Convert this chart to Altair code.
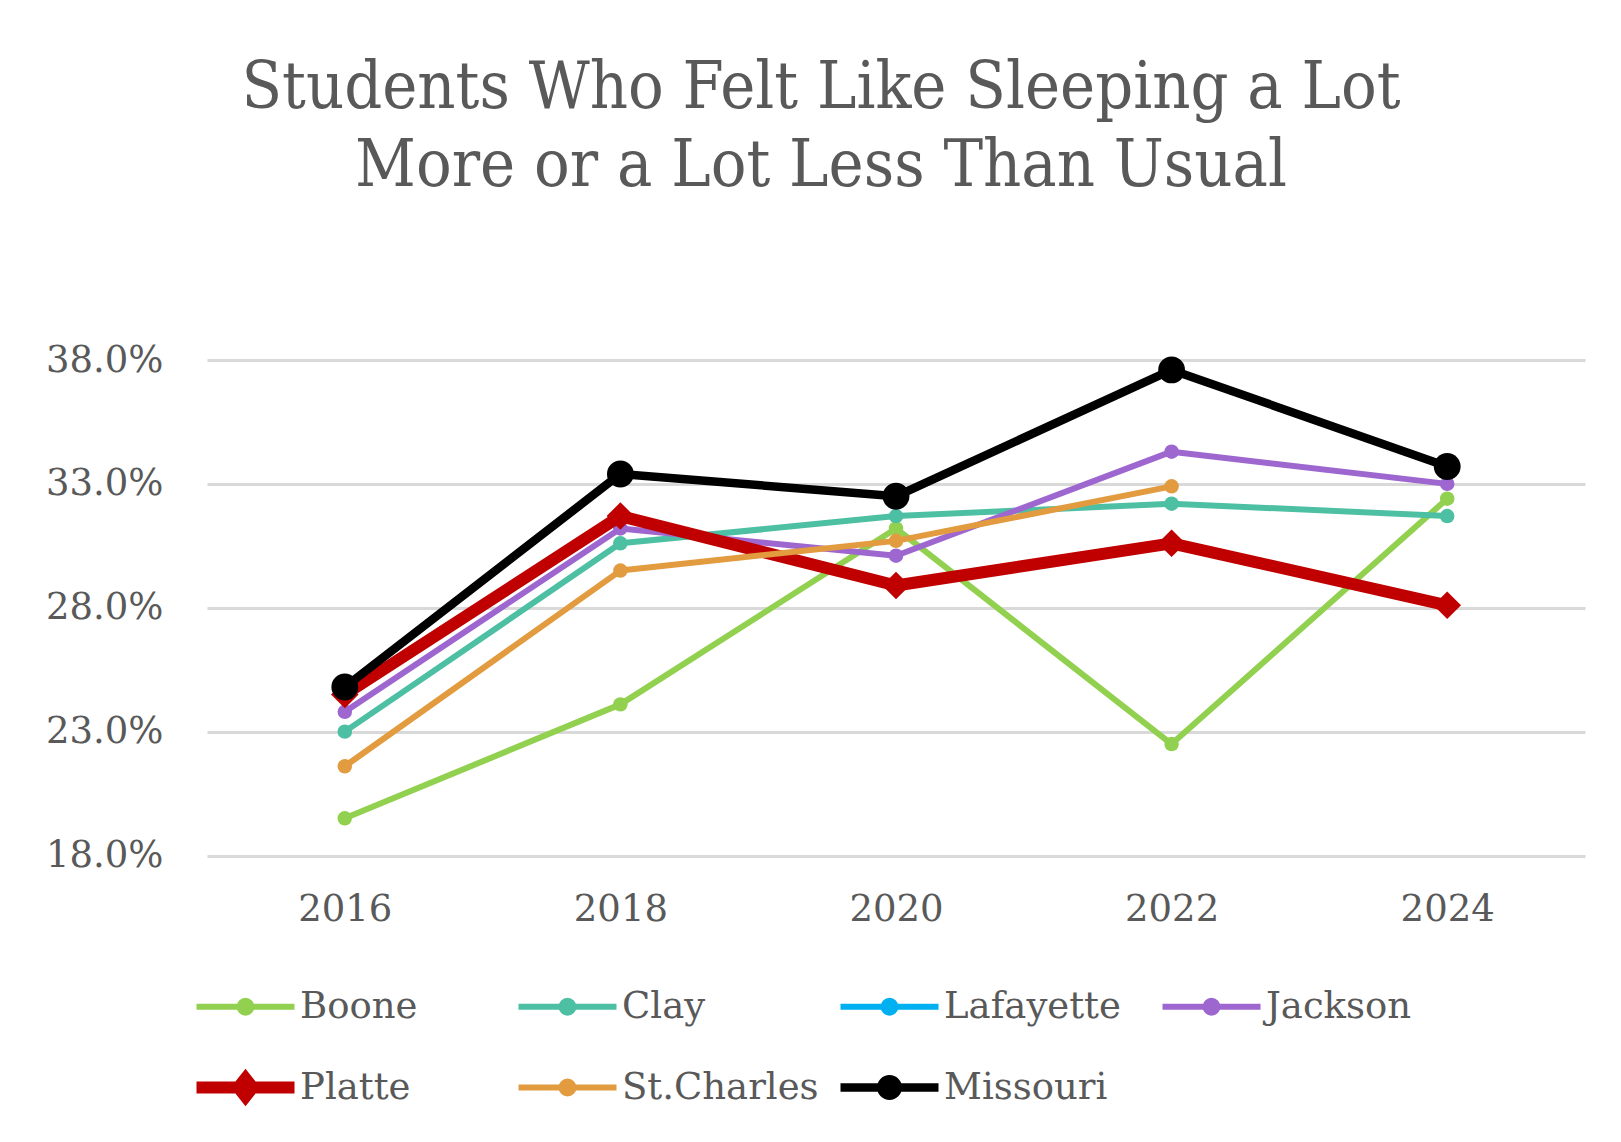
import altair as alt
import pandas as pd

# ---------------- data ----------------
years = ["2016", "2018", "2020", "2022", "2024"]
series_names = ["Boone", "Clay", "Lafayette", "Jackson", "Platte", "St.Charles", "Missouri"]
boone = [19.5, 24.1, 31.2, 22.5, 32.4]
clay = [23.0, 30.6, 31.7, 32.2, 31.7]
lafayette = [None, None, None, None, None]
jackson = [23.8, 31.2, 30.1, 34.3, 33.0]
platte = [24.5, 31.7, 28.9, 30.6, 28.1]
st_charles = [21.6, 29.5, 30.7, 32.9, None]
missouri = [24.8, 33.4, 32.5, 37.6, 33.7]
series_values = [boone, clay, lafayette, jackson, platte, st_charles, missouri]
colors = ["#92D050", "#4DBFA3", "#00B0F0", "#9E67D0", "#C00000", "#E29B3E", "#000000"]
y_ticks = [18, 23, 28, 33, 38]
title_lines = ["Students Who Felt Like Sleeping a Lot", "More or a Lot Less Than Usual"]

rows = []
for name, vals in zip(series_names, series_values):
    for yr, v in zip(years, vals):
        if v is not None:
            rows.append({"year": yr, "series": name, "value": v})
df = pd.DataFrame(rows)

# ---------------- styles ----------------
FONT = "DejaVu Serif"
TITLE_FONT = "DejaVu Serif Condensed, DejaVu Serif"
GREY = "#595959"
style = {
    "Boone": dict(w=6, shape="circle", size=210),
    "Clay": dict(w=6, shape="circle", size=210),
    "Jackson": dict(w=6, shape="circle", size=210),
    "Platte": dict(w=12, shape="diamond", size=760),
    "St.Charles": dict(w=6, shape="circle", size=210),
    "Missouri": dict(w=8.5, shape="circle", size=720),
}

# legend glyphs (line + marker), drawn with a 6px stroke
small_glyph = ("M0,0L98,0"
               "M55,0A6,6,0,1,1,43,0A6,6,0,1,1,55,0"
               "M51,0A2,2,0,1,1,47,0A2,2,0,1,1,51,0")
big_glyph = ("M0,-1.25L98,-1.25M0,1.25L98,1.25"
             "M58.5,0A9.5,9.5,0,1,1,39.5,0A9.5,9.5,0,1,1,58.5,0"
             "M53.5,0A4.5,4.5,0,1,1,44.5,0A4.5,4.5,0,1,1,53.5,0"
             "M50,0A1,1,0,1,1,48,0A1,1,0,1,1,50,0")
diamond_glyph = ("M0,-3L98,-3M0,3L98,3"
                 "M49,-14L60,0L49,14L38,0Z"
                 "M49,-9L56,0L49,9L42,0Z"
                 "M49,-4L52,0L49,4L46,0Z")
glyphs = {"Platte": diamond_glyph, "Missouri": big_glyph}
legend_shapes = [glyphs.get(n, small_glyph) for n in series_names]

legend = alt.Legend(
    title=None,
    orient="none",
    direction="horizontal",
    legendX=-29,
    legendY=624,
    columns=4,
    gridAlign="all",
    padding=0,
    symbolSize=4,
    symbolStrokeWidth=6,
    symbolOpacity=1,
    labelOffset=85,
    columnPadding=3,
    rowPadding=32,
    labelFont=FONT,
    labelFontSize=37,
    labelColor=GREY,
    labelLimit=400,
)

color = alt.Color(
    "series:N",
    scale=alt.Scale(domain=series_names, range=colors),
    legend=legend,
)
shape_enc = alt.Shape(
    "series:N",
    scale=alt.Scale(domain=series_names, range=legend_shapes),
    legend=legend,
)
x = alt.X(
    "year:O",
    scale=alt.Scale(type="point", padding=0.5, domain=years),
    axis=alt.Axis(
        title=None, labelAngle=0, domain=False, ticks=False, grid=False,
        labelPadding=36, labelFont=FONT, labelFontSize=37, labelColor=GREY,
    ),
)
y = alt.Y(
    "value:Q",
    scale=alt.Scale(domain=[18, 38], nice=False, zero=False),
    axis=alt.Axis(
        title=None, values=y_ticks, labelExpr="format(datum.value, '.1f') + '%'",
        domain=False, ticks=False, labelPadding=44, labelFont=FONT,
        labelFontSize=37, labelColor=GREY, gridColor="#D9D9D9", gridWidth=3,
    ),
)

base = alt.Chart(df)
layers = []
for name in series_names:
    if name not in style:
        continue
    st = style[name]
    sub = base.transform_filter(alt.datum.series == name)
    layers.append(
        sub.mark_line(strokeWidth=st["w"], strokeJoin="round").encode(x=x, y=y, color=color)
    )
    layers.append(
        sub.mark_point(filled=True, shape=st["shape"], size=st["size"], opacity=1).encode(
            x=x, y=y, color=color
        )
    )

# legend-only layer (draws nothing: every row is filtered out)
legend_layer = base.transform_filter("false").mark_point(filled=False, opacity=1).encode(
    x=x, y=y, color=color, shape=shape_enc
)
layers.append(legend_layer)

chart = alt.layer(*layers).properties(
    width=1378,
    height=495.5,
    padding={"left": 199, "top": 352, "right": 20, "bottom": 270},
    autosize=alt.AutoSizeParams(type="none"),
    title=alt.Title(
        text=title_lines,
        font=TITLE_FONT,
        fontSize=66,
        fontWeight="normal",
        color=GREY,
        anchor="middle",
        frame="group",
        dx=-75,
        offset=141,
        lineHeight=78,
    ),
).configure_view(stroke=None)

chart.save("out.html", embed_options={"renderer": "svg", "actions": False})
